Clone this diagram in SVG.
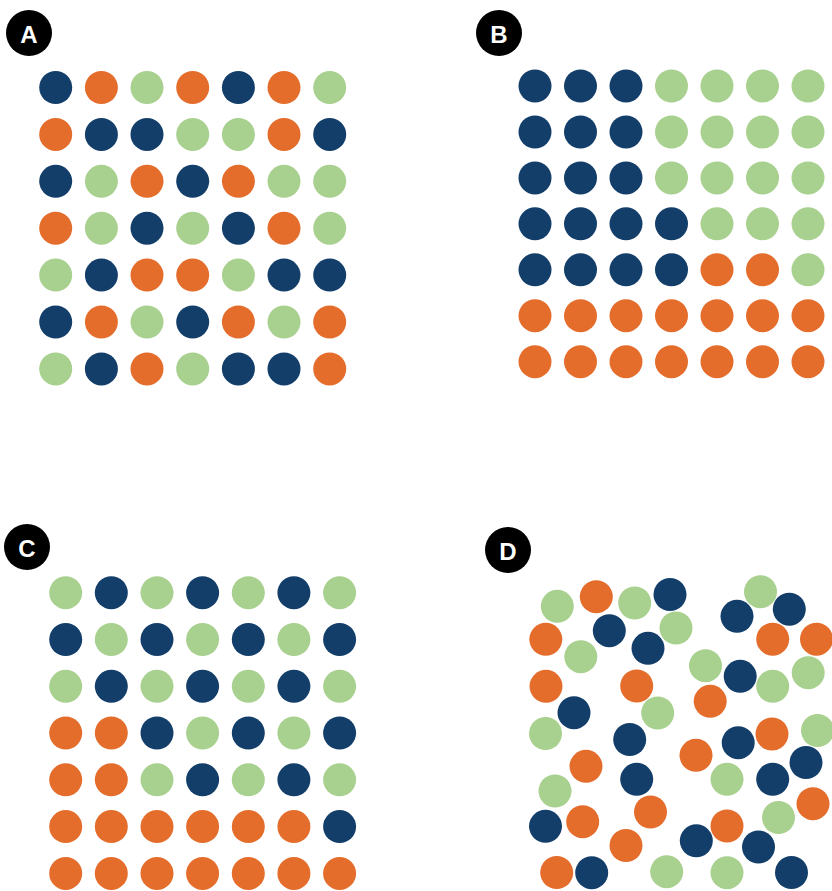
<svg xmlns="http://www.w3.org/2000/svg" width="832" height="891" viewBox="0 0 832 891">
<style>
.n{fill:#133e6a}
.o{fill:#e46d2c}
.g{fill:#a8d08e}
.badge{fill:#000}
.lbl{fill:#fff;font-family:"Liberation Sans",Arial,sans-serif;font-weight:bold;font-size:24px;text-anchor:middle;dominant-baseline:central}
</style>
<rect width="832" height="891" fill="#fff"/>
<g id="panelA">
<g id="badgeA"><circle class="badge" cx="29" cy="33" r="23"/><text class="lbl" x="29" y="34">A</text></g>
<g id="gridA">
<circle class="n" cx="55.7" cy="87.5" r="16.5"/><circle class="o" cx="101.4" cy="87.5" r="16.5"/><circle class="g" cx="147" cy="87.5" r="16.5"/><circle class="o" cx="192.7" cy="87.5" r="16.5"/><circle class="n" cx="238.4" cy="87.5" r="16.5"/><circle class="o" cx="284" cy="87.5" r="16.5"/><circle class="g" cx="329.7" cy="87.5" r="16.5"/>
<circle class="o" cx="55.7" cy="134.4" r="16.5"/><circle class="n" cx="101.4" cy="134.4" r="16.5"/><circle class="n" cx="147" cy="134.4" r="16.5"/><circle class="g" cx="192.7" cy="134.4" r="16.5"/><circle class="g" cx="238.4" cy="134.4" r="16.5"/><circle class="o" cx="284" cy="134.4" r="16.5"/><circle class="n" cx="329.7" cy="134.4" r="16.5"/>
<circle class="n" cx="55.7" cy="181.3" r="16.5"/><circle class="g" cx="101.4" cy="181.3" r="16.5"/><circle class="o" cx="147" cy="181.3" r="16.5"/><circle class="n" cx="192.7" cy="181.3" r="16.5"/><circle class="o" cx="238.4" cy="181.3" r="16.5"/><circle class="g" cx="284" cy="181.3" r="16.5"/><circle class="g" cx="329.7" cy="181.3" r="16.5"/>
<circle class="o" cx="55.7" cy="228.2" r="16.5"/><circle class="g" cx="101.4" cy="228.2" r="16.5"/><circle class="n" cx="147" cy="228.2" r="16.5"/><circle class="g" cx="192.7" cy="228.2" r="16.5"/><circle class="n" cx="238.4" cy="228.2" r="16.5"/><circle class="o" cx="284" cy="228.2" r="16.5"/><circle class="g" cx="329.7" cy="228.2" r="16.5"/>
<circle class="g" cx="55.7" cy="275.1" r="16.5"/><circle class="n" cx="101.4" cy="275.1" r="16.5"/><circle class="o" cx="147" cy="275.1" r="16.5"/><circle class="o" cx="192.7" cy="275.1" r="16.5"/><circle class="g" cx="238.4" cy="275.1" r="16.5"/><circle class="n" cx="284" cy="275.1" r="16.5"/><circle class="n" cx="329.7" cy="275.1" r="16.5"/>
<circle class="n" cx="55.7" cy="322" r="16.5"/><circle class="o" cx="101.4" cy="322" r="16.5"/><circle class="g" cx="147" cy="322" r="16.5"/><circle class="n" cx="192.7" cy="322" r="16.5"/><circle class="o" cx="238.4" cy="322" r="16.5"/><circle class="g" cx="284" cy="322" r="16.5"/><circle class="o" cx="329.7" cy="322" r="16.5"/>
<circle class="g" cx="55.7" cy="368.9" r="16.5"/><circle class="n" cx="101.4" cy="368.9" r="16.5"/><circle class="o" cx="147" cy="368.9" r="16.5"/><circle class="g" cx="192.7" cy="368.9" r="16.5"/><circle class="n" cx="238.4" cy="368.9" r="16.5"/><circle class="n" cx="284" cy="368.9" r="16.5"/><circle class="o" cx="329.7" cy="368.9" r="16.5"/>
</g>
</g>
<g id="panelB">
<g id="badgeB"><circle class="badge" cx="499" cy="33" r="23"/><text class="lbl" x="499" y="34">B</text></g>
<g id="gridB">
<circle class="n" cx="535" cy="86" r="16.5"/><circle class="n" cx="580.5" cy="86" r="16.5"/><circle class="n" cx="626" cy="86" r="16.5"/><circle class="g" cx="671.5" cy="86" r="16.5"/><circle class="g" cx="717" cy="86" r="16.5"/><circle class="g" cx="762.5" cy="86" r="16.5"/><circle class="g" cx="808" cy="86" r="16.5"/>
<circle class="n" cx="535" cy="132" r="16.5"/><circle class="n" cx="580.5" cy="132" r="16.5"/><circle class="n" cx="626" cy="132" r="16.5"/><circle class="g" cx="671.5" cy="132" r="16.5"/><circle class="g" cx="717" cy="132" r="16.5"/><circle class="g" cx="762.5" cy="132" r="16.5"/><circle class="g" cx="808" cy="132" r="16.5"/>
<circle class="n" cx="535" cy="177.9" r="16.5"/><circle class="n" cx="580.5" cy="177.9" r="16.5"/><circle class="n" cx="626" cy="177.9" r="16.5"/><circle class="g" cx="671.5" cy="177.9" r="16.5"/><circle class="g" cx="717" cy="177.9" r="16.5"/><circle class="g" cx="762.5" cy="177.9" r="16.5"/><circle class="g" cx="808" cy="177.9" r="16.5"/>
<circle class="n" cx="535" cy="223.8" r="16.5"/><circle class="n" cx="580.5" cy="223.8" r="16.5"/><circle class="n" cx="626" cy="223.8" r="16.5"/><circle class="n" cx="671.5" cy="223.8" r="16.5"/><circle class="g" cx="717" cy="223.8" r="16.5"/><circle class="g" cx="762.5" cy="223.8" r="16.5"/><circle class="g" cx="808" cy="223.8" r="16.5"/>
<circle class="n" cx="535" cy="269.8" r="16.5"/><circle class="n" cx="580.5" cy="269.8" r="16.5"/><circle class="n" cx="626" cy="269.8" r="16.5"/><circle class="n" cx="671.5" cy="269.8" r="16.5"/><circle class="o" cx="717" cy="269.8" r="16.5"/><circle class="o" cx="762.5" cy="269.8" r="16.5"/><circle class="g" cx="808" cy="269.8" r="16.5"/>
<circle class="o" cx="535" cy="315.7" r="16.5"/><circle class="o" cx="580.5" cy="315.7" r="16.5"/><circle class="o" cx="626" cy="315.7" r="16.5"/><circle class="o" cx="671.5" cy="315.7" r="16.5"/><circle class="o" cx="717" cy="315.7" r="16.5"/><circle class="o" cx="762.5" cy="315.7" r="16.5"/><circle class="o" cx="808" cy="315.7" r="16.5"/>
<circle class="o" cx="535" cy="361.7" r="16.5"/><circle class="o" cx="580.5" cy="361.7" r="16.5"/><circle class="o" cx="626" cy="361.7" r="16.5"/><circle class="o" cx="671.5" cy="361.7" r="16.5"/><circle class="o" cx="717" cy="361.7" r="16.5"/><circle class="o" cx="762.5" cy="361.7" r="16.5"/><circle class="o" cx="808" cy="361.7" r="16.5"/>
</g>
</g>
<g id="panelC">
<g id="badgeC"><circle class="badge" cx="27" cy="547" r="23"/><text class="lbl" x="27" y="548">C</text></g>
<g id="gridC">
<circle class="g" cx="65.7" cy="592.7" r="16.5"/><circle class="n" cx="111.3" cy="592.7" r="16.5"/><circle class="g" cx="157" cy="592.7" r="16.5"/><circle class="n" cx="202.6" cy="592.7" r="16.5"/><circle class="g" cx="248.3" cy="592.7" r="16.5"/><circle class="n" cx="293.9" cy="592.7" r="16.5"/><circle class="g" cx="339.6" cy="592.7" r="16.5"/>
<circle class="n" cx="65.7" cy="639.5" r="16.5"/><circle class="g" cx="111.3" cy="639.5" r="16.5"/><circle class="n" cx="157" cy="639.5" r="16.5"/><circle class="g" cx="202.6" cy="639.5" r="16.5"/><circle class="n" cx="248.3" cy="639.5" r="16.5"/><circle class="g" cx="293.9" cy="639.5" r="16.5"/><circle class="n" cx="339.6" cy="639.5" r="16.5"/>
<circle class="g" cx="65.7" cy="686.3" r="16.5"/><circle class="n" cx="111.3" cy="686.3" r="16.5"/><circle class="g" cx="157" cy="686.3" r="16.5"/><circle class="n" cx="202.6" cy="686.3" r="16.5"/><circle class="g" cx="248.3" cy="686.3" r="16.5"/><circle class="n" cx="293.9" cy="686.3" r="16.5"/><circle class="g" cx="339.6" cy="686.3" r="16.5"/>
<circle class="o" cx="65.7" cy="733" r="16.5"/><circle class="o" cx="111.3" cy="733" r="16.5"/><circle class="n" cx="157" cy="733" r="16.5"/><circle class="g" cx="202.6" cy="733" r="16.5"/><circle class="n" cx="248.3" cy="733" r="16.5"/><circle class="g" cx="293.9" cy="733" r="16.5"/><circle class="n" cx="339.6" cy="733" r="16.5"/>
<circle class="o" cx="65.7" cy="779.8" r="16.5"/><circle class="o" cx="111.3" cy="779.8" r="16.5"/><circle class="g" cx="157" cy="779.8" r="16.5"/><circle class="n" cx="202.6" cy="779.8" r="16.5"/><circle class="g" cx="248.3" cy="779.8" r="16.5"/><circle class="n" cx="293.9" cy="779.8" r="16.5"/><circle class="g" cx="339.6" cy="779.8" r="16.5"/>
<circle class="o" cx="65.7" cy="826.6" r="16.5"/><circle class="o" cx="111.3" cy="826.6" r="16.5"/><circle class="o" cx="157" cy="826.6" r="16.5"/><circle class="o" cx="202.6" cy="826.6" r="16.5"/><circle class="o" cx="248.3" cy="826.6" r="16.5"/><circle class="o" cx="293.9" cy="826.6" r="16.5"/><circle class="n" cx="339.6" cy="826.6" r="16.5"/>
<circle class="o" cx="65.7" cy="873.4" r="16.5"/><circle class="o" cx="111.3" cy="873.4" r="16.5"/><circle class="o" cx="157" cy="873.4" r="16.5"/><circle class="o" cx="202.6" cy="873.4" r="16.5"/><circle class="o" cx="248.3" cy="873.4" r="16.5"/><circle class="o" cx="293.9" cy="873.4" r="16.5"/><circle class="o" cx="339.6" cy="873.4" r="16.5"/>
</g>
</g>
<g id="panelD">
<g id="badgeD"><circle class="badge" cx="508" cy="550" r="23"/><text class="lbl" x="508" y="551">D</text></g>
<g id="scatterD">
<circle class="g" cx="557.3" cy="606.3" r="16.5"/>
<circle class="o" cx="596.3" cy="596.7" r="16.5"/>
<circle class="g" cx="634.7" cy="603" r="16.5"/>
<circle class="n" cx="670" cy="594.5" r="16.5"/>
<circle class="g" cx="760.5" cy="591.7" r="16.5"/>
<circle class="n" cx="737" cy="616.3" r="16.5"/>
<circle class="n" cx="789.3" cy="609.2" r="16.5"/>
<circle class="n" cx="609.3" cy="630.7" r="16.5"/>
<circle class="g" cx="676" cy="628" r="16.5"/>
<circle class="o" cx="545.8" cy="639.3" r="16.5"/>
<circle class="n" cx="648" cy="648.3" r="16.5"/>
<circle class="o" cx="772.7" cy="639.2" r="16.5"/>
<circle class="o" cx="816.5" cy="639.2" r="16.5"/>
<circle class="g" cx="580.8" cy="656.7" r="16.5"/>
<circle class="g" cx="705.5" cy="665.7" r="16.5"/>
<circle class="n" cx="740.2" cy="676.3" r="16.5"/>
<circle class="g" cx="772.7" cy="686.3" r="16.5"/>
<circle class="g" cx="808.2" cy="672.7" r="16.5"/>
<circle class="o" cx="546" cy="686.3" r="16.5"/>
<circle class="o" cx="636.7" cy="686" r="16.5"/>
<circle class="o" cx="710.2" cy="701.3" r="16.5"/>
<circle class="n" cx="574" cy="712.7" r="16.5"/>
<circle class="g" cx="657.7" cy="713" r="16.5"/>
<circle class="g" cx="545.5" cy="733.5" r="16.5"/>
<circle class="n" cx="629.7" cy="739.5" r="16.5"/>
<circle class="n" cx="738.2" cy="742.7" r="16.5"/>
<circle class="o" cx="772" cy="734" r="16.5"/>
<circle class="g" cx="817.5" cy="730.5" r="16.5"/>
<circle class="o" cx="696" cy="755.3" r="16.5"/>
<circle class="o" cx="586" cy="766.3" r="16.5"/>
<circle class="n" cx="636.7" cy="779.3" r="16.5"/>
<circle class="g" cx="727" cy="779.3" r="16.5"/>
<circle class="n" cx="772.7" cy="779.3" r="16.5"/>
<circle class="n" cx="806" cy="762.5" r="16.5"/>
<circle class="g" cx="555" cy="791" r="16.5"/>
<circle class="o" cx="650.5" cy="812" r="16.5"/>
<circle class="g" cx="778.5" cy="817.5" r="16.5"/>
<circle class="o" cx="813" cy="803.7" r="16.5"/>
<circle class="n" cx="545.5" cy="826.3" r="16.5"/>
<circle class="o" cx="582.7" cy="821.7" r="16.5"/>
<circle class="o" cx="727" cy="826" r="16.5"/>
<circle class="o" cx="626" cy="845.5" r="16.5"/>
<circle class="n" cx="696.3" cy="840.8" r="16.5"/>
<circle class="n" cx="758.5" cy="847" r="16.5"/>
<circle class="o" cx="556.7" cy="872.5" r="16.5"/>
<circle class="n" cx="591.7" cy="872.7" r="16.5"/>
<circle class="g" cx="666.7" cy="871.7" r="16.5"/>
<circle class="g" cx="727" cy="872.7" r="16.5"/>
<circle class="n" cx="791.5" cy="872.5" r="16.5"/>
</g>
</g>
</svg>
